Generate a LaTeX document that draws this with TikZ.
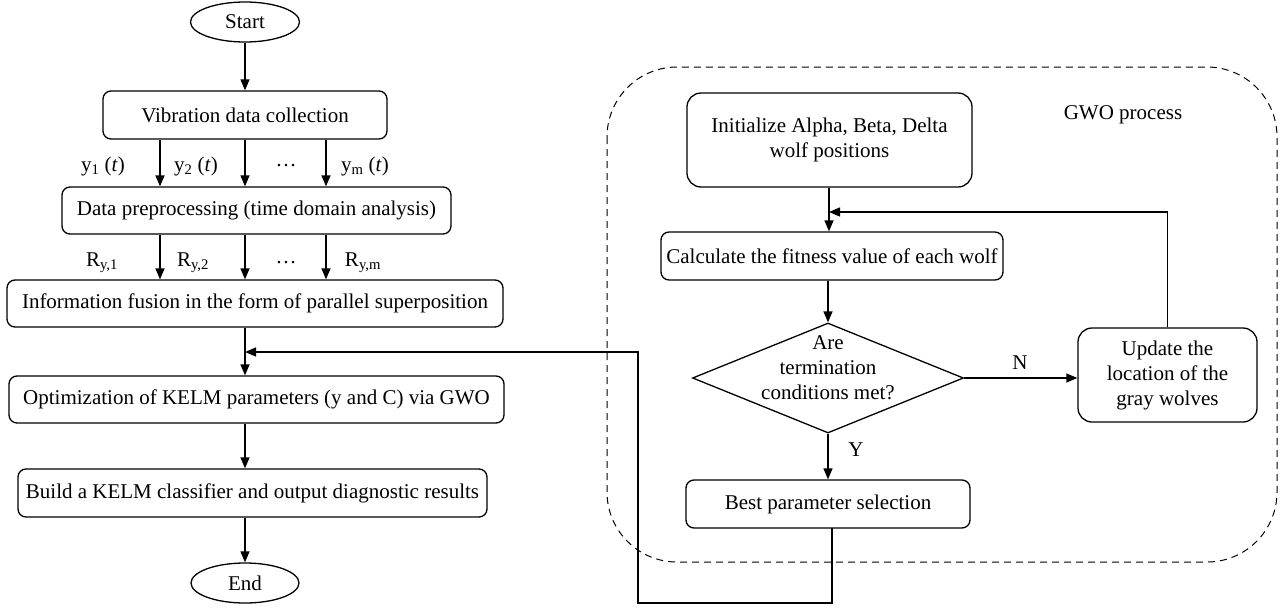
\documentclass[tikz,border=0pt]{standalone}
\usepackage{fontspec}
\setmainfont{Liberation Serif}
\usetikzlibrary{shapes.geometric,arrows.meta}
\begin{document}
\begin{tikzpicture}[x=1pt,y=-1pt,
  every node/.style={font=\fontsize{21}{25}\selectfont},
  line/.style={line width=1.4pt,draw=black},
  arr/.style={line, -{Triangle[length=11pt,width=9pt]}},
  box/.style={draw=black,line width=1.3pt,rounded corners=8pt,inner sep=0pt,align=center},
  term/.style={draw=black,line width=1.3pt,ellipse,inner sep=0pt},
  lbl/.style={inner sep=0pt,anchor=center}]
\useasboundingbox (0,0) rectangle (1280,608);
% left column
\node[term,minimum width=109pt,minimum height=40pt] (start) at (245,22) {Start};
\node[box,minimum width=284pt,minimum height=48pt] (vib) at (245,115) {Vibration data collection};
\node[box,minimum width=389pt,minimum height=47pt] (pre) at (256.5,210.5) {Data preprocessing (time domain analysis)};
\node[box,minimum width=496pt,minimum height=47pt] (fus) at (255,303.5) {Information fusion in the form of parallel superposition};
\node[box,minimum width=495pt,minimum height=47pt] (opt) at (256.5,399.5) {Optimization of KELM parameters (y and C) via GWO};
\node[box,minimum width=469pt,minimum height=48pt] (build) at (252.5,493) {Build a KELM classifier and output diagnostic results};
\node[term,minimum width=108pt,minimum height=40pt] (end) at (245,583) {End};
\draw[arr] (start) -- (vib);
\foreach \xx in {160,245,326}{
  \draw[arr] (vib.south -| \xx,0) -- (pre.north -| \xx,0);
  \draw[arr] (pre.south -| \xx,0) -- (fus.north -| \xx,0);
}
\node[lbl] (ly1) at (103,166) {y\textsubscript{1} (\textit{t})};
\node[lbl] (ly2) at (196,166) {y\textsubscript{2} (\textit{t})};
\node[lbl] (ld1) at (286,166) {\dots};
\node[lbl] (lym) at (365,166) {y\textsubscript{m} (\textit{t})};
\node[lbl] (lr1) at (102,263) {R\textsubscript{y,1}};
\node[lbl] (lr2) at (193,263) {R\textsubscript{y,2}};
\node[lbl] (ld2) at (286,263) {\dots};
\node[lbl] (lrm) at (363,263) {R\textsubscript{y,m}};
\draw[arr] (fus.south -| start) -- (opt.north -| start);
\draw[arr] (opt.south -| start) -- (build.north -| start);
\draw[arr] (build.south -| start) -- (end.north);
% GWO process
\draw[line width=1pt,draw=black,dash pattern=on 7pt off 5pt,rounded corners=70pt] (607,67) rectangle (1277,562);
\node[lbl] (gwo) at (1123,115) {GWO process};
\node[box,rounded corners=14pt,minimum width=285pt,minimum height=94pt] (init) at (829.5,140) {Initialize Alpha, Beta, Delta\\wolf positions};
\node[box,minimum width=342pt,minimum height=48pt] (calc) at (832,256) {Calculate the fitness value of each wolf};
\node[draw=black,line width=1.3pt,diamond,minimum width=271pt,minimum height=110pt,inner sep=0pt] (dec) at (828,378) {};
\node[lbl,align=center] (dectext) at (828,368) {Are\\termination\\conditions met?};
\node[box,rounded corners=14pt,minimum width=179pt,minimum height=94pt] (upd) at (1167.5,375) {Update the\\location of the\\gray wolves};
\node[box,minimum width=284pt,minimum height=48pt] (best) at (828,504) {Best parameter selection};
\draw[arr] (init.south -| 829,0) -- (calc.north -| 829,0);
\coordinate (fb) at (829,212);
\draw[arr] (upd.north) |- (fb);
\draw[arr] (dec.north |- calc.south) -- (dec.north);
\draw[arr] (dec.east) -- (dec.east -| upd.west);
\node[lbl] (nlab) at (1020,363) {N};
\draw[arr] (dec.south) -- (best.north);
\node[lbl] (ylab) at (856,450) {Y};
\coordinate (b0) at (832,528);
\coordinate (b1) at (832,603);
\coordinate (b2) at (638,603);
\coordinate (b3) at (638,352);
\coordinate (merge) at (245,352);
\draw[arr] (b0) -- (b1) -- (b2) -- (b3) -- (merge);
\end{tikzpicture}
\end{document}
